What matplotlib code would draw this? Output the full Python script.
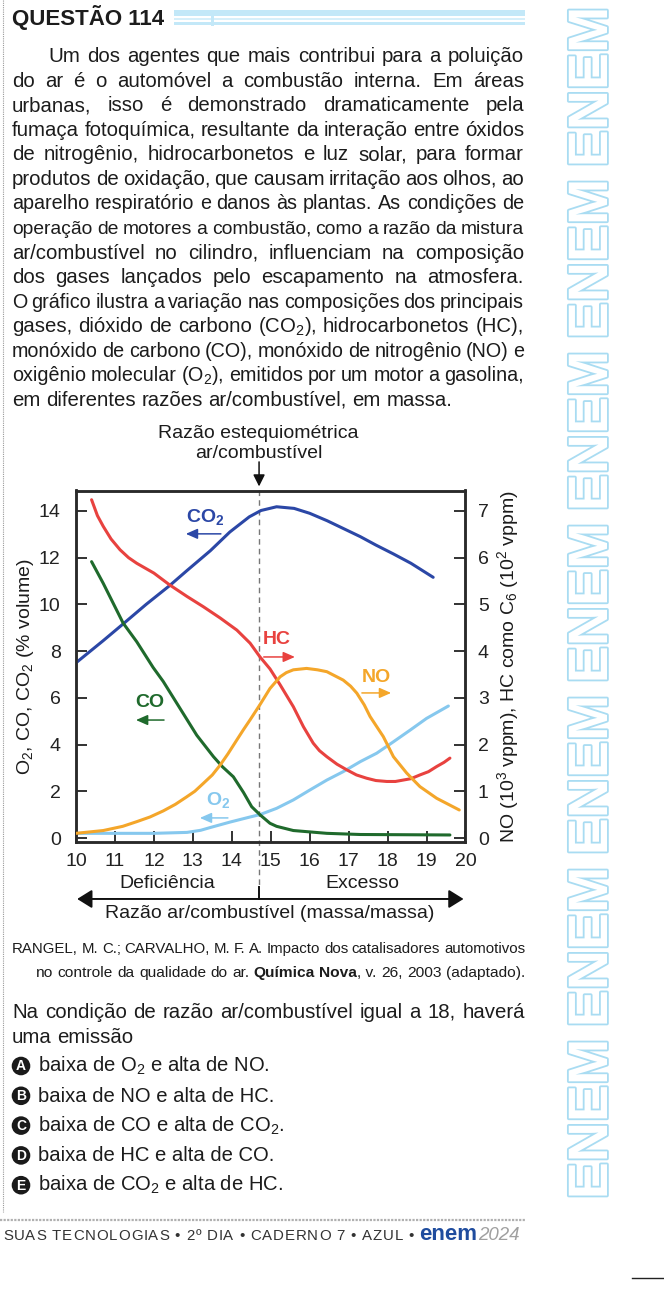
import matplotlib
matplotlib.use("Agg")
import matplotlib.pyplot as plt
import matplotlib.patheffects as pe
from matplotlib.patches import Circle, Rectangle

plt.rcParams['font.family'] = ['Liberation Sans', 'DejaVu Sans']
plt.rcParams['mathtext.fontset'] = 'custom'
plt.rcParams['mathtext.rm'] = 'Liberation Sans'
plt.rcParams['mathtext.it'] = 'Liberation Sans:italic'
plt.rcParams['mathtext.bf'] = 'Liberation Sans:bold'

# --- chart data ---
# left axis: % volume ; right axis: NO in 10^3 vppm, HC in 10^2 vppm
co2_x = [10.0, 10.7, 11.2, 11.8, 12.4, 12.85, 13.45, 13.95, 14.45, 14.75, 15.15,
         15.6, 16.0, 16.45, 16.85, 17.3, 17.7, 18.15, 18.6, 19.17]
co2_y = [7.5, 8.45, 9.15, 10.0, 10.8, 11.45, 12.3, 13.1, 13.75, 14.02, 14.18,
         14.11, 13.9, 13.58, 13.26, 12.9, 12.54, 12.16, 11.76, 11.16]

hc_x = [10.4, 10.55, 10.7, 10.9, 11.13, 11.35, 11.56, 12.0, 12.4, 12.85, 13.27, 13.7,
        14.13, 14.47, 14.72, 14.98, 15.24, 15.58, 15.84, 16.09, 16.25, 16.44, 16.7,
        16.95, 17.2, 17.46, 17.7, 17.98, 18.2, 18.4, 18.6, 18.83, 19.05, 19.26,
        19.45, 19.6]
hc_y = [7.24, 6.9, 6.67, 6.4, 6.17, 6.0, 5.88, 5.67, 5.42, 5.17, 4.95, 4.71,
        4.45, 4.17, 3.88, 3.62, 3.28, 2.81, 2.38, 2.03, 1.87, 1.74, 1.58,
        1.46, 1.35, 1.28, 1.23, 1.21, 1.21, 1.24, 1.27, 1.35, 1.42, 1.53,
        1.62, 1.71]

co_x = [10.4, 10.7, 11.0, 11.21, 11.56, 11.98, 12.24, 12.67, 13.1, 13.53, 13.76,
        14.04, 14.3, 14.51, 14.72, 14.98, 15.15, 15.58, 16.44, 17.3, 19.6]
co_y = [11.83, 10.9, 9.9, 9.2, 8.4, 7.3, 6.7, 5.55, 4.4, 3.48, 3.05,
        2.62, 1.95, 1.34, 1.0, 0.63, 0.5, 0.32, 0.2, 0.15, 0.13]

no_x = [10.0, 10.7, 11.2, 11.56, 11.9, 12.24, 12.55, 12.84, 13.05, 13.27, 13.5,
        13.7, 13.9, 14.13, 14.3, 14.47, 14.72, 14.98, 15.24, 15.4, 15.58, 15.92,
        16.2, 16.44, 16.86, 17.05, 17.21, 17.4, 17.55, 17.89, 18.15, 18.49,
        18.83, 19.26, 19.84]
no_y = [0.1, 0.16, 0.25, 0.35, 0.45, 0.58, 0.72, 0.88, 1.0, 1.17, 1.35,
        1.56, 1.8, 2.1, 2.32, 2.53, 2.85, 3.2, 3.45, 3.54, 3.6, 3.63,
        3.6, 3.56, 3.38, 3.25, 3.1, 2.85, 2.6, 2.17, 1.74, 1.39,
        1.1, 0.85, 0.6]

o2_x = [10.0, 11.0, 12.0, 12.85, 13.2, 13.45, 13.95, 14.47, 14.72, 15.15, 15.58,
        16.0, 16.44, 16.86, 17.3, 17.72, 18.15, 18.58, 19.0, 19.56]
o2_y = [0.2, 0.2, 0.2, 0.24, 0.33, 0.45, 0.68, 0.9, 1.0, 1.27, 1.63,
        2.05, 2.48, 2.84, 3.27, 3.63, 4.12, 4.62, 5.12, 5.65]

stoich = 14.7
x_ticks = list(range(10, 21))
left_ticks = list(range(0, 15, 2))
right_ticks = list(range(0, 8))

# --- page text ---
body = [
    "Um dos agentes que mais contribui para a poluição",
    "do ar é o automóvel a combustão interna. Em áreas",
    "urbanas, isso é demonstrado dramaticamente pela",
    "fumaça fotoquímica, resultante da interação entre óxidos",
    "de nitrogênio, hidrocarbonetos e luz solar, para formar",
    "produtos de oxidação, que causam irritação aos olhos, ao",
    "aparelho respiratório e danos às plantas. As condições de",
    "operação de motores a combustão, como a razão da mistura",
    "ar/combustível no cilindro, influenciam na composição",
    "dos gases lançados pelo escapamento na atmosfera.",
    "O gráfico ilustra a variação nas composições dos principais",
    "gases, dióxido de carbono (CO$_2$), hidrocarbonetos (HC),",
    "monóxido de carbono (CO), monóxido de nitrogênio (NO) e",
    "oxigênio molecular (O$_2$), emitidos por um motor a gasolina,",
    "em diferentes razões ar/combustível, em massa.",
]
cite1 = "RANGEL, M. C.; CARVALHO, M. F. A. Impacto dos catalisadores automotivos"
cite2 = [("no", "normal"), ("controle", "normal"), ("da", "normal"), ("qualidade", "normal"),
         ("do", "normal"), ("ar.", "normal"), ("Química", "bold"), ("Nova", "bold"),
         (", v.", "normal"), ("26,", "normal"), ("2003", "normal"), ("(adaptado).", "normal")]
question = ["Na condição de razão ar/combustível igual a 18, haverá", "uma emissão"]
letters = ["A", "B", "C", "D", "E"]
options = [
    "baixa de O$_2$ e alta de NO.",
    "baixa de NO e alta de HC.",
    "baixa de CO e alta de CO$_2$.",
    "baixa de HC e alta de CO.",
    "baixa de CO$_2$ e alta de HC.",
]

INK = "#1c1c1c"
DPI = 100
W, H = 664, 1291

fig = plt.figure(figsize=(W / DPI, H / DPI), dpi=DPI)
fig.patch.set_facecolor("white")

# full page overlay in pixel units
pg = fig.add_axes([0, 0, 1, 1])
pg.set_xlim(0, W)
pg.set_ylim(H, 0)
pg.axis("off")
rend = fig.canvas.get_renderer()


def place_words(words, x0, x1, y, size, justify=True, color=INK, glue=None):
    # glue: indexes of words that stick to the previous one (no space)
    glue = glue or []
    while True:
        px = size * DPI / 72
        arts = [pg.text(0, y, w, fontsize=size, fontweight=wt, color=color,
                        ha="left", va="baseline") for w, wt in words]
        widths = [a.get_window_extent(rend).width for a in arts]
        n_gaps = len(words) - 1 - len(glue)
        if justify and n_gaps > 0:
            gap = (x1 - x0 - sum(widths)) / n_gaps
            if gap < 0.2 * px:
                for a in arts:
                    a.remove()
                size *= 0.97
                continue
        else:
            gap = 0.278 * px
        x = x0
        for i, (a, w) in enumerate(zip(arts, widths)):
            if i > 0 and i not in glue:
                x += gap
            a.set_x(x)
            x += w
        return size


def tracked(s, x0, x1, y, size, color):
    px = size * DPI / 72
    arts, widths = [], []
    for ch in s:
        if ch == " ":
            arts.append(None)
            widths.append(0.278 * px)
        else:
            a = pg.text(0, y, ch, fontsize=size, color=color, ha="left", va="baseline")
            arts.append(a)
            widths.append(a.get_window_extent(rend).width)
    track = (x1 - x0 - sum(widths)) / (len(s) - 1)
    x = x0
    for a, w in zip(arts, widths):
        if a is not None:
            a.set_x(x)
        x += w + track


# header
pg.text(12, 25, "QUESTÃO 114", fontsize=16, fontweight="bold", color=INK, va="baseline")
for y0, h, c in [(10, 6, "#c3e8f8"), (18, 2, "#d6effa"), (22, 3, "#c3e8f8")]:
    pg.add_patch(Rectangle((174, y0), 351, h, color=c, lw=0))
pg.add_patch(Rectangle((211, 16), 3, 10, color="#c3e8f8", lw=0))

# body text
for i, line in enumerate(body):
    words = [(w, "normal") for w in line.split(" ")]
    x0 = 48 if i == 0 else 12
    last = i == len(body) - 1
    place_words(words, x0, 524, 62 + 24.57 * i, 14.7, justify=not last)

# citation
place_words([(w, "normal") for w in cite1.split(" ")], 12, 525, 953, 11.5)
place_words(cite2, 36, 525, 977, 11.5, glue=[8])

# question
place_words([(w, "normal") for w in question[0].split(" ")], 12, 525, 1018, 14.7)
place_words([(w, "normal") for w in question[1].split(" ")], 12, 525, 1043, 14.7,
            justify=False)

for i, (lt, opt) in enumerate(zip(letters, options)):
    yb = 1072 + 29.8 * i
    pg.add_patch(Circle((21, yb - 6), 9.3, color="#1a1a1a", lw=0))
    pg.text(21, yb - 5.5, lt, fontsize=10, fontweight="bold", color="white",
            ha="center", va="center")
    pg.text(38, yb, opt, fontsize=14.6, color=INK, ha="left", va="baseline")

# footer
pg.plot([0, 525], [1220, 1220], color="#b0b0b0", lw=1.6, ls=(0, (1, 0.6)))
tracked("SUAS TECNOLOGIAS • 2º DIA • CADERNO 7 • AZUL •", 3, 414, 1240, 10.8, "#333333")
logo = pg.text(419, 1240, "enem", fontsize=16, fontweight="bold", color="#1f4c9e",
               va="baseline")
lw_logo = logo.get_window_extent(rend).width
pg.text(419 + lw_logo + 1, 1240, "2024", fontsize=13.5, style="italic", color="#a0a0a0",
        va="baseline")
pg.plot([632, 664], [1278, 1278], color="#222222", lw=1)

# left page edge and right decoration
pg.plot([2.5, 2.5], [0, 1212], color="#9a9a9a", lw=0.8, ls=(0, (1, 1)))
for yc in range(87, 1206, 172):
    pg.text(593, yc, "ENEM", rotation=90, fontsize=40, fontweight="bold",
            color="white", ha="center", va="center",
            path_effects=[pe.withStroke(linewidth=2.6, foreground="#a9dcf2")])

# --- chart ---
ax = fig.add_axes([76 / W, 1 - 842 / H, 389.5 / W, 351.5 / H])
ax2 = ax.twinx()
ylo, yhi = -0.171, 14.876
ax.set_xlim(10, 20)
ax.set_ylim(ylo, yhi)
ax2.set_ylim(ylo / 2, yhi / 2)

lw = 2.2
ax.plot(co2_x, co2_y, color="#2b47a6", lw=lw, solid_capstyle="round",
        solid_joinstyle="round", zorder=3)
ax.plot(co_x, co_y, color="#1f6a2c", lw=lw, solid_capstyle="round",
        solid_joinstyle="round", zorder=3)
ax.plot(o2_x, o2_y, color="#86c8ee", lw=lw, solid_capstyle="round",
        solid_joinstyle="round", zorder=2)
ax2.plot(hc_x, hc_y, color="#e8423f", lw=lw, solid_capstyle="round",
         solid_joinstyle="round", zorder=3)
ax2.plot(no_x, no_y, color="#f4a62a", lw=lw, solid_capstyle="round",
         solid_joinstyle="round", zorder=3)

for a in (ax, ax2):
    for s in a.spines.values():
        s.set_color("#2a2a2a")
        s.set_linewidth(1.8)
ax.set_xticks(x_ticks)
ax.set_yticks(left_ticks)
ax2.set_yticks(right_ticks)
ax.tick_params(axis="both", direction="in", length=8, width=1.3, labelsize=14,
               colors="#222222", pad=8)
ax.tick_params(axis="y", pad=11)
ax2.tick_params(axis="y", direction="in", length=8, width=1.3, labelsize=14,
                colors="#222222", pad=9)

# stoichiometric line, arrows and labels
ax.plot([stoich, stoich], [yhi, -2.05], color="#777777", lw=1, ls=(0, (4, 3)),
        clip_on=False, zorder=1)
ax.plot([stoich, stoich], [-2.1, -2.61], color="#111111", lw=1.4, clip_on=False)
ax.annotate("", xy=(10.03, -2.61), xytext=(19.95, -2.61), annotation_clip=False,
            arrowprops=dict(arrowstyle="<|-|>,head_length=0.45,head_width=0.28",
                            mutation_scale=20, color="#111111", lw=1.4,
                            shrinkA=0, shrinkB=0))
ax.annotate("", xy=(stoich, 15.05), xytext=(stoich, 16.1), annotation_clip=False,
            arrowprops=dict(arrowstyle="-|>,head_length=0.5,head_width=0.25",
                            mutation_scale=14, color="#111111", lw=1.1,
                            shrinkA=0, shrinkB=0))

labels = [
    (r"CO$_\mathbf{2}$", 13.31, 13.74, 13.72, 12.82, 13.02, "#2b47a6"),
    ("HC", 15.16, 8.48, 14.82, 15.62, 7.75, "#e8423f"),
    ("NO", 17.70, 6.89, 17.34, 18.09, 6.21, "#f4a62a"),
    ("CO", 11.90, 5.78, 12.26, 11.54, 5.05, "#1f6a2c"),
    (r"O$_\mathbf{2}$", 13.65, 1.63, 13.9, 13.18, 0.86, "#86c8ee"),
]
for txt, tx, ty, xa, xb, ya, c in labels:
    ax.text(tx, ty, txt, color=c, fontsize=14, fontweight="bold", ha="center", va="center")
    ax.annotate("", xy=(xb, ya), xytext=(xa, ya),
                arrowprops=dict(arrowstyle="-|>,head_length=0.5,head_width=0.22",
                                mutation_scale=14, color=c, lw=1.1,
                                shrinkA=0, shrinkB=0))

pg.text(258, 433.5, "Razão estequiométrica", fontsize=14, color=INK, ha="center", va="center")
pg.text(259, 453.7, "ar/combustível", fontsize=14, color=INK, ha="center", va="center")
pg.text(167, 883, "Deficiência", fontsize=14, color=INK, ha="center", va="center")
pg.text(362, 883, "Excesso", fontsize=14, color=INK, ha="center", va="center")
pg.text(270, 913, "Razão ar/combustível (massa/massa)", fontsize=14, color=INK,
        ha="center", va="center")
pg.text(26, 667, "O$_2$, CO, CO$_2$ (% volume)", fontsize=14, color=INK, rotation=90,
        ha="center", va="center")
pg.text(508, 667, "NO (10$^3$ vppm), HC como C$_6$ (10$^2$ vppm)", fontsize=14,
        color=INK, rotation=90, ha="center", va="center")

fig.savefig("out.png", dpi=DPI)
